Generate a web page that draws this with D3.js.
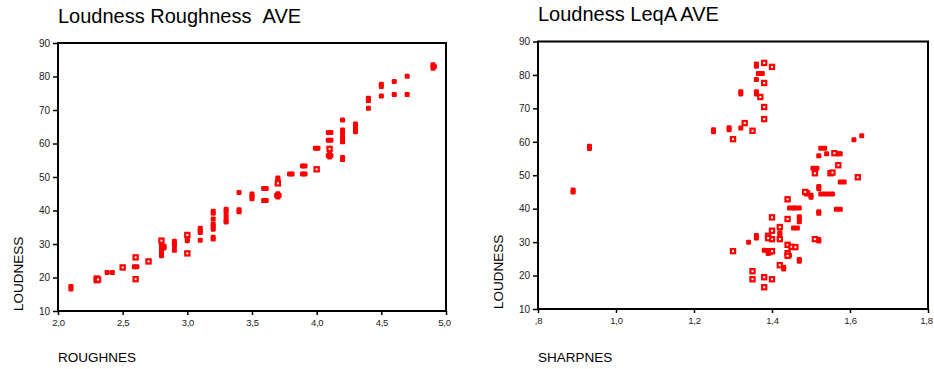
<!DOCTYPE html>
<html>
<head>
<meta charset="utf-8">
<script src="https://cdn.jsdelivr.net/npm/d3@7"></script>
<style>
  body { margin: 0; background: #fff; }
  svg { display: block; font-family: Arial, "Liberation Sans", sans-serif; }
</style>
</head>
<body>
<svg id="chart" width="934" height="369"></svg>
<script>
// --- data ---
const yTicks = [10, 20, 30, 40, 50, 60, 70, 80, 90];

const roughTicks = [2.0, 2.5, 3.0, 3.5, 4.0, 4.5, 5.0];
const roughTickLabels = ["2,0", "2,5", "3,0", "3,5", "4,0", "4,5", "5,0"];

const sharpTicks = [0.8, 1.0, 1.2, 1.4, 1.6, 1.8];
const sharpTickLabels = [",8", "1,0", "1,2", "1,4", "1,6", "1,8"];

// [roughness, loudness] - solid marks
const roughSolid = [
  [2.1, 16.6], [2.1, 17.3],
  [2.38, 21.5], [2.42, 21.5],
  [2.59, 23.2], [2.61, 23.2],
  [2.8, 29.5], [2.8, 28.5], [2.8, 27.8], [2.8, 27.0], [2.8, 26.5], [2.82, 28.8], [2.82, 29.3],
  [2.9, 30.8], [2.9, 30.1], [2.9, 29.5], [2.9, 28.1],
  [3.0, 31.6], [3.0, 31.0],
  [3.1, 34.7], [3.1, 34.0], [3.1, 33.4], [3.1, 31.1],
  [3.2, 39.8], [3.2, 39.2], [3.2, 37.5], [3.2, 36.0], [3.2, 35.2], [3.2, 34.4], [3.2, 32.0], [3.2, 31.5],
  [3.3, 40.4], [3.3, 39.6], [3.3, 38.2], [3.3, 37.0], [3.3, 36.6],
  [3.4, 45.4], [3.4, 40.2], [3.4, 39.6],
  [3.5, 44.9], [3.5, 44.2], [3.5, 43.5],
  [3.59, 46.6], [3.61, 46.6], [3.59, 43.0], [3.61, 43.0],
  [3.7, 49.7], [3.7, 49.2], [3.7, 45.0], [3.7, 44.4], [3.7, 44.0], [3.69, 44.5], [3.71, 44.5],
  [3.79, 50.9], [3.81, 50.9],
  [3.89, 53.3], [3.91, 53.3], [3.89, 50.9], [3.91, 50.9],
  [3.99, 58.6], [4.01, 58.6],
  [4.09, 63.3], [4.11, 63.3], [4.09, 61.0], [4.11, 61.0], [4.1, 56.8], [4.1, 56.0], [4.09, 56.4], [4.11, 56.4],
  [4.2, 67.0], [4.2, 64.0], [4.2, 63.3], [4.2, 62.0], [4.2, 61.4], [4.2, 60.5], [4.2, 55.8], [4.2, 55.2],
  [4.3, 65.8], [4.3, 65.0], [4.3, 64.3], [4.3, 63.5],
  [4.4, 73.5], [4.4, 72.8], [4.4, 70.5],
  [4.5, 77.7], [4.5, 77.0], [4.5, 74.2],
  [4.6, 78.5], [4.6, 74.6],
  [4.7, 80.1], [4.7, 74.6],
  [4.9, 83.5], [4.9, 83.0], [4.9, 82.5], [4.91, 83.0]
];
// [roughness, loudness] - boxed marks
const roughBoxed = [
  [2.3, 19.2], [2.3, 19.7], [2.31, 19.4],
  [2.5, 23.0],
  [2.6, 26.0], [2.6, 19.5],
  [2.7, 24.8],
  [2.8, 31.0],
  [3.0, 32.7], [3.0, 27.2],
  [3.7, 48.1],
  [4.0, 52.3],
  [4.1, 58.4]
];

// [sharpness, loudness] - solid marks
const sharpSolid = [
  [0.89, 45.0], [0.89, 45.6],
  [0.932, 58.0], [0.932, 58.7],
  [1.25, 63.0], [1.25, 63.6],
  [1.29, 63.6], [1.29, 64.2],
  [1.32, 64.1],
  [1.32, 74.3], [1.32, 75.0],
  [1.36, 82.6], [1.36, 83.3],
  [1.36, 78.6],
  [1.36, 74.3], [1.36, 75.0],
  [1.365, 80.4], [1.375, 80.4],
  [1.34, 30.0],
  [1.36, 31.2], [1.36, 32.0],
  [1.38, 27.6], [1.39, 27.5], [1.395, 26.8], [1.39, 26.6],
  [1.42, 32.3], [1.42, 32.8],
  [1.43, 22.5], [1.43, 22.0],
  [1.445, 40.2], [1.455, 40.2], [1.46, 40.2], [1.47, 40.2],
  [1.455, 34.2], [1.465, 34.2],
  [1.47, 37.6], [1.47, 37.0], [1.47, 36.1],
  [1.47, 24.3], [1.47, 24.8],
  [1.45, 28.5], [1.445, 26.0],
  [1.50, 43.4], [1.50, 44.0],
  [1.505, 52.1], [1.515, 52.1],
  [1.52, 55.8],
  [1.52, 46.6], [1.52, 46.0],
  [1.52, 38.6], [1.52, 39.1],
  [1.52, 30.3], [1.52, 30.8],
  [1.525, 58.1], [1.535, 58.1],
  [1.525, 44.4], [1.535, 44.4],
  [1.54, 56.4],
  [1.545, 44.4], [1.555, 44.4],
  [1.57, 56.4], [1.575, 56.4],
  [1.565, 39.8], [1.575, 39.8],
  [1.575, 48.0], [1.585, 48.0],
  [1.61, 60.6],
  [1.63, 61.8]
];
// [sharpness, loudness] - boxed marks
const sharpBoxed = [
  [1.30, 60.8], [1.33, 65.6], [1.35, 63.3], [1.37, 73.4], [1.38, 83.6], [1.38, 77.6],
  [1.38, 70.4], [1.38, 66.8], [1.40, 82.4],
  [1.30, 27.3], [1.35, 21.3], [1.35, 18.9], [1.38, 19.5], [1.38, 16.5], [1.40, 18.9],
  [1.40, 37.4], [1.40, 33.4], [1.40, 30.9], [1.39, 31.9], [1.39, 31.2], [1.40, 27.3],
  [1.42, 34.5], [1.42, 30.9], [1.42, 23.1], [1.44, 42.8], [1.44, 36.9], [1.44, 29.2],
  [1.45, 28.6], [1.44, 26.7], [1.44, 25.9], [1.46, 28.5],
  [1.49, 44.6], [1.485, 45.0], [1.51, 50.6], [1.51, 30.9], [1.55, 50.6], [1.555, 50.8],
  [1.56, 56.6], [1.57, 53.0], [1.62, 49.4]
];

const svg = d3.select("#chart");
const red = "#ff0000";

function drawPanel(opt) {
  const x = d3.scaleLinear().domain(opt.xDomain).range([opt.left, opt.right]);
  const y = d3.scaleLinear().domain([10, 90]).range([opt.bottom, opt.top]);
  const g = svg.append("g");

  // title
  g.append("text")
    .attr("x", opt.left)
    .attr("y", opt.titleY)
    .attr("font-size", "20px")
    .attr("fill", "#000")
    .text(opt.title);

  // y axis
  const yAxis = g.append("g")
    .attr("transform", `translate(${opt.left},0)`)
    .call(d3.axisLeft(y).tickValues(yTicks).tickSize(5).tickPadding(3).tickFormat(d3.format("d")));
  yAxis.select(".domain").remove();
  yAxis.selectAll("text").attr("font-size", "10px").attr("fill", "#222").attr("font-family", "Arial, 'Liberation Sans', sans-serif");
  yAxis.selectAll("line").attr("stroke", "#000").attr("stroke-width", 1.5);

  // x axis
  const xAxis = g.append("g")
    .attr("transform", `translate(0,${opt.bottom})`)
    .call(d3.axisBottom(x).tickValues(opt.ticks).tickSize(4).tickPadding(4)
      .tickFormat((d, i) => opt.tickLabels[i]));
  xAxis.select(".domain").remove();
  xAxis.selectAll("text").attr("font-size", "9.5px").attr("letter-spacing", "-0.3px").attr("fill", "#222").attr("font-family", "Arial, 'Liberation Sans', sans-serif");
  xAxis.selectAll("line").attr("stroke", "#000").attr("stroke-width", 1.5);
  // last label sits against the page edge
  xAxis.selectAll(".tick:last-of-type text").attr("dx", "-2");

  // frame
  g.append("rect")
    .attr("x", opt.left)
    .attr("y", opt.top)
    .attr("width", opt.right - opt.left)
    .attr("height", opt.bottom - opt.top)
    .attr("fill", "none")
    .attr("stroke", "#000")
    .attr("stroke-width", 2);

  // solid marks
  g.selectAll(".solid")
    .data(opt.solid)
    .enter()
    .append("rect")
    .attr("x", d => x(d[0]) - 2.5)
    .attr("y", d => y(d[1]) - 2.5)
    .attr("width", 5)
    .attr("height", 5)
    .attr("rx", 1.2)
    .attr("fill", red);

  // boxed marks
  g.selectAll(".boxed")
    .data(opt.boxed)
    .enter()
    .append("rect")
    .attr("x", d => x(d[0]) - 2.1)
    .attr("y", d => y(d[1]) - 2.1)
    .attr("width", 4.2)
    .attr("height", 4.2)
    .attr("fill", "#fff")
    .attr("stroke", red)
    .attr("stroke-width", 2.2);

  // axis titles
  g.append("text")
    .attr("x", opt.left)
    .attr("y", 362)
    .attr("font-size", "13.5px")
    .attr("fill", "#000")
    .text(opt.xLabel);

  g.append("text")
    .attr("transform", `translate(${opt.left - 35},${opt.bottom}) rotate(-90)`)
    .attr("font-size", "13.5px")
    .attr("fill", "#000")
    .text("LOUDNESS");
}

drawPanel({
  title: "Loudness Roughness\u00a0\u00a0AVE",
  titleY: 23,
  xLabel: "ROUGHNES",
  left: 58, right: 446, top: 43, bottom: 311,
  xDomain: [2.0, 5.0],
  ticks: roughTicks, tickLabels: roughTickLabels,
  solid: roughSolid, boxed: roughBoxed
});

drawPanel({
  title: "Loudness LeqA AVE",
  titleY: 21,
  xLabel: "SHARPNES",
  left: 538, right: 928, top: 41.5, bottom: 309,
  xDomain: [0.8, 1.8],
  ticks: sharpTicks, tickLabels: sharpTickLabels,
  solid: sharpSolid, boxed: sharpBoxed
});
</script>
</body>
</html>
